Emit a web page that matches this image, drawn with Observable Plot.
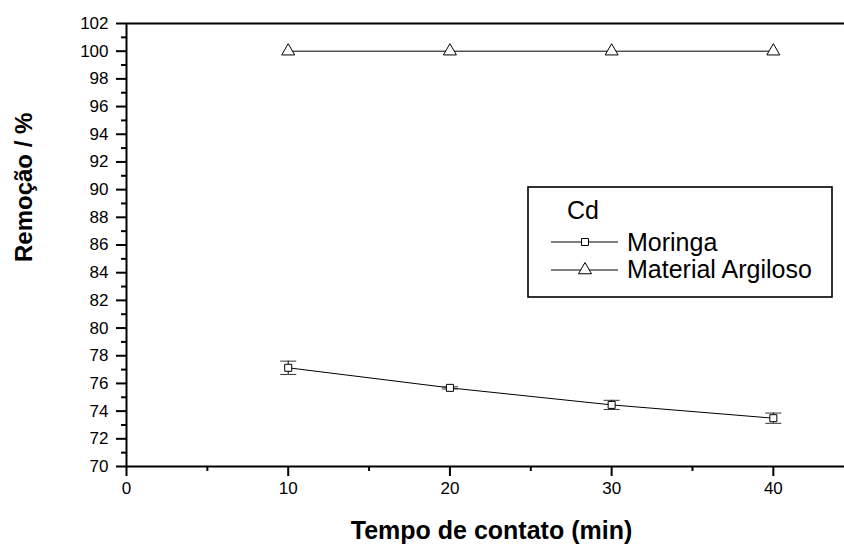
<!DOCTYPE html>
<html>
<head>
<meta charset="utf-8">
<script src="https://cdn.jsdelivr.net/npm/d3@7"></script>
<script src="https://cdn.jsdelivr.net/npm/@observablehq/plot@0.6"></script>
<style>
  html, body { margin: 0; padding: 0; background: #fff; }
  #chart { position: relative; width: 844px; height: 544px; }
</style>
</head>
<body>
<div id="chart"></div>
<script>
// Contact time (min) and removal (%) of Cd for both adsorbents
const tempos = [10, 20, 30, 40];
const moringa = [77.13, 75.68, 74.45, 73.49];
const moringaErro = [0.48, 0.08, 0.33, 0.37];
const argiloso = [100, 100, 100, 100];

const xMajor = [0, 10, 20, 30, 40];
const xMinor = [5, 15, 25, 35];
const yMajor = d3.range(70, 103, 2);
const yMinor = d3.range(71, 102, 2);

const legendTitle = "Cd";
const serieNames = ["Moringa", "Material Argiloso"];
const xTitle = "Tempo de contato (min)";
const yTitle = "Remoção / %";

const font = "'Liberation Sans', Arial, Helvetica, sans-serif";

const dadosMoringa = tempos.map((t, i) => ({t, v: moringa[i], lo: moringa[i] - moringaErro[i], hi: moringa[i] + moringaErro[i]}));
const dadosArgiloso = tempos.map((t, i) => ({t, v: argiloso[i]}));

// horizontal cap for the error bars
const cap = {
  draw(context, size) {
    const w = Math.sqrt(size / Math.PI);
    context.moveTo(-w, 0);
    context.lineTo(w, 0);
  }
};

const squareR = Math.sqrt(49 / Math.PI);
const triSize = 3 * Math.sqrt(3) * 3.75 * 3.75;
const triR = Math.sqrt(triSize / Math.PI);

const plot = Plot.plot({
  width: 844,
  height: 544,
  marginLeft: 126,
  marginRight: 0,
  marginTop: 23,
  marginBottom: 78,
  style: {fontFamily: font, fontSize: "17px", color: "#000", background: "#fff"},
  x: {domain: [0, 44.4]},
  y: {domain: [70, 102]},
  marks: [
    // axes
    Plot.axisX({ticks: xMajor, tickSize: 10, tickPadding: 5, strokeWidth: 2, label: null, fontSize: 17, tickFormat: d => String(d)}),
    Plot.axisX({ticks: xMinor, tickSize: 5, strokeWidth: 2, label: null, tickFormat: () => ""}),
    Plot.axisY({ticks: yMajor, tickSize: 10, tickPadding: 8, strokeWidth: 2, label: null, fontSize: 17, tickFormat: d => String(d)}),
    Plot.axisY({ticks: yMinor, tickSize: 5, strokeWidth: 2, label: null, tickFormat: () => ""}),
    Plot.ruleY([70], {strokeWidth: 2}),
    Plot.ruleY([102], {strokeWidth: 2}),
    Plot.ruleX([0], {strokeWidth: 2}),
    // series lines
    Plot.line(dadosArgiloso, {x: "t", y: "v", stroke: "#000", strokeWidth: 1}),
    Plot.line(dadosMoringa, {x: "t", y: "v", stroke: "#000", strokeWidth: 1}),
    // error bars
    Plot.ruleX(dadosMoringa, {x: "t", y1: "lo", y2: "hi", stroke: "#000", strokeWidth: 1}),
    Plot.dot(dadosMoringa, {x: "t", y: "lo", symbol: cap, r: 8, stroke: "#333", strokeWidth: 1}),
    Plot.dot(dadosMoringa, {x: "t", y: "hi", symbol: cap, r: 8, stroke: "#333", strokeWidth: 1}),
    // markers
    Plot.dot(dadosMoringa, {x: "t", y: "v", symbol: "square", r: squareR, fill: "#fff", stroke: "#000", strokeWidth: 1}),
    Plot.dot(dadosArgiloso, {x: "t", y: "v", symbol: "triangle", r: triR, fill: "#fff", stroke: "#000", strokeWidth: 1}),
    // axis titles
    Plot.text([xTitle], {text: d => d, frameAnchor: "bottom", dx: 6, dy: 64, fontSize: 25, fontWeight: "bold", lineAnchor: "middle"}),
    Plot.text([yTitle], {text: d => d, frameAnchor: "left", dx: -102, dy: 17, rotate: -90, fontSize: 24, fontWeight: "bold", lineAnchor: "middle"})
  ]
});

// legend box inside the plotting area
const svg = d3.select(plot);
const lg = svg.append("g").attr("font-family", font).attr("fill", "#000").attr("text-anchor", "start");
lg.append("rect").attr("x", 528).attr("y", 187).attr("width", 304).attr("height", 110)
  .attr("fill", "#fff").attr("stroke", "#000").attr("stroke-width", 1.6);
lg.append("text").attr("x", 567).attr("y", 219).attr("font-size", 25).text(legendTitle);
const rows = [
  {y: 242, base: 251, symbol: d3.symbolSquare, size: 49},
  {y: 270, base: 278, symbol: d3.symbolTriangle, size: triSize}
];
rows.forEach((r, i) => {
  lg.append("line").attr("x1", 551).attr("x2", 618).attr("y1", r.y).attr("y2", r.y)
    .attr("stroke", "#000").attr("stroke-width", 1);
  lg.append("path").attr("d", d3.symbol(r.symbol, r.size)())
    .attr("transform", `translate(585,${r.y})`)
    .attr("fill", "#fff").attr("stroke", "#000").attr("stroke-width", 1);
  lg.append("text").attr("x", 627).attr("y", r.base).attr("font-size", 25).text(serieNames[i]);
});

document.getElementById("chart").appendChild(plot);
</script>
</body>
</html>
